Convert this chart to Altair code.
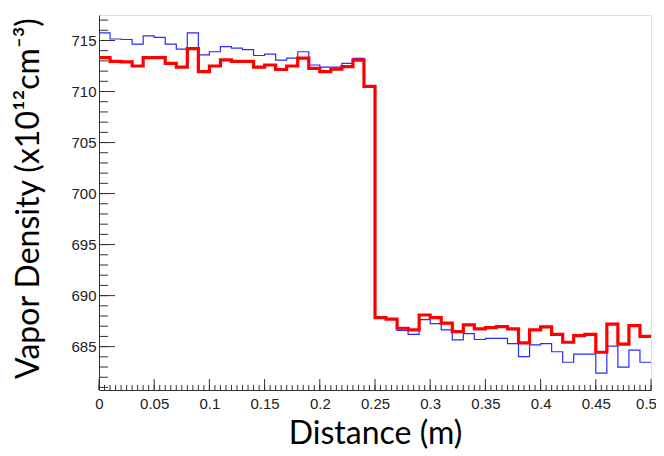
import altair as alt
import pandas as pd

bin_width = 0.01
blue_vals = [715.75, 715.15, 715.1, 714.65, 715.45, 715.3, 714.65, 714.15, 715.75, 713.6,
             713.9, 714.4, 714.25, 714.1, 713.53, 713.67, 713.08, 713.27, 713.9, 712.6,
             712.4, 712.4, 712.75, 713.25, 710.5, 687.9, 687.7, 686.6, 686.2, 687.65,
             687.25, 686.64, 685.66, 686.28, 685.7, 685.8, 685.8, 685.3, 684.02, 685.17,
             685.3, 684.5, 683.47, 684.26, 684.26, 682.4, 685.04, 683.0, 684.65, 683.47]
red_vals = [713.33, 712.95, 712.9, 712.5, 713.33, 713.33, 712.75, 712.4, 714.2, 711.96,
            712.5, 713.1, 712.95, 712.95, 712.4, 712.6, 712.16, 712.5, 713.27, 712.26,
            711.96, 712.2, 712.45, 713.08, 710.5, 687.84, 687.7, 686.8, 686.64, 688.1,
            687.84, 687.3, 686.47, 687.13, 686.74, 686.86, 686.96, 686.74, 685.36, 686.64,
            686.93, 686.2, 685.43, 686.08, 686.2, 684.45, 687.2, 685.24, 687.06, 686.0]

x_major = [0, 0.05, 0.1, 0.15, 0.2, 0.25, 0.3, 0.35, 0.4, 0.45, 0.5]
x_minor = [round(k * 0.005, 3) for k in range(101)]
y_major = [685, 690, 695, 700, 705, 710, 715]
y_minor = list(range(681, 718))

x_domain = [0, 0.5]
y_domain = [680.75, 717.5]


def hist_frame(vals):
    xs = [round(i * bin_width, 3) for i in range(len(vals))] + [round(len(vals) * bin_width, 3)]
    ys = list(vals) + [vals[-1]]
    return pd.DataFrame({"x": xs, "y": ys})


xscale = alt.Scale(domain=x_domain, nice=False, zero=False)
yscale = alt.Scale(domain=y_domain, nice=False, zero=False)

font_lbl = "Liberation Sans"
font_title = "Lato"

x_axis = alt.Axis(values=x_major, format=".2~f", ticks=False, grid=False,
                  labelFont=font_lbl, labelFontSize=15, labelColor="#222",
                  labelPadding=6, labelFlush=False, domainColor="#333",
                  labelOffset={"condition": {"test": "datum.value >= 0.5", "value": -5}, "value": 0},
                  title="Distance (m)", titleFont=font_title, titleFontSize=32,
                  titleFontWeight="normal", titleColor="#000", titlePadding=7)
y_axis = alt.Axis(values=y_major, ticks=False, grid=False,
                  labelFont=font_lbl, labelFontSize=15, labelColor="#222",
                  labelPadding=3, labelFlush=False, domainColor="#333",
                  title="Vapor Density (x10¹²cm⁻³)", titleFont=font_title,
                  titleFontSize=32, titleFontWeight="normal", titleColor="#000",
                  titlePadding=25, titleY=183)

blue = alt.Chart(hist_frame(blue_vals)).mark_line(
    interpolate="step-after", color="#2b2bff", strokeWidth=1.2
).encode(
    x=alt.X("x:Q", scale=xscale, axis=x_axis),
    y=alt.Y("y:Q", scale=yscale, axis=y_axis),
)

red = alt.Chart(hist_frame(red_vals)).mark_line(
    interpolate="step-after", color="#ff0000", strokeWidth=3.2
).encode(
    x=alt.X("x:Q", scale=xscale, axis=x_axis),
    y=alt.Y("y:Q", scale=yscale, axis=y_axis),
)

ymaj = alt.Chart(pd.DataFrame({"y": y_major})).mark_rule(color="#333", strokeWidth=1).encode(
    y=alt.Y("y:Q", scale=yscale, axis=y_axis), x=alt.value(0), x2=alt.value(16))
ymin = alt.Chart(pd.DataFrame({"y": y_minor})).mark_rule(color="#333", strokeWidth=1).encode(
    y=alt.Y("y:Q", scale=yscale, axis=y_axis), x=alt.value(0), x2=alt.value(9))
xmaj = alt.Chart(pd.DataFrame({"x": x_major})).mark_rule(color="#333", strokeWidth=1).encode(
    x=alt.X("x:Q", scale=xscale, axis=x_axis), y=alt.value(375), y2=alt.value(364))
xmin = alt.Chart(pd.DataFrame({"x": x_minor})).mark_rule(color="#333", strokeWidth=1).encode(
    x=alt.X("x:Q", scale=xscale, axis=x_axis), y=alt.value(375), y2=alt.value(370))

chart = alt.layer(blue, red, ymaj, ymin, xmaj, xmin).properties(
    width=552, height=375,
    autosize=alt.AutoSizeParams(type="none"),
    padding={"left": 91, "top": 7, "right": 5, "bottom": 60},
).configure_view(stroke="#555", strokeWidth=1).configure(background="white")

chart.save("out.html", embed_options={"renderer": "svg", "actions": False})
